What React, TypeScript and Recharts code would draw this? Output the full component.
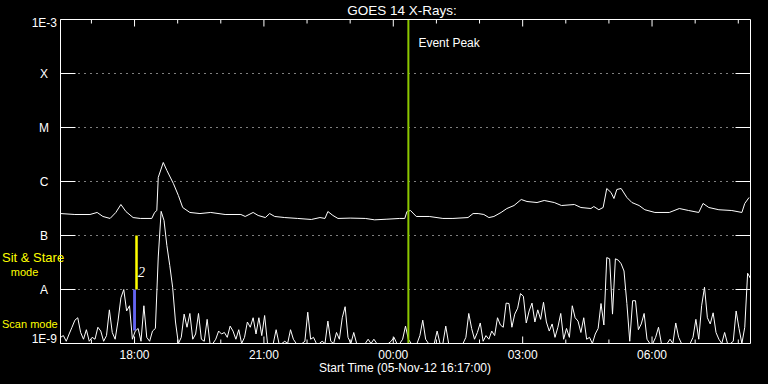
import React from 'react'
import {
  LineChart,
  Line,
  XAxis,
  YAxis,
  CartesianGrid,
  ReferenceLine,
  ReferenceArea,
} from 'recharts'

// times are minutes after the start (05-Nov-12 16:17), flux in nW/m^2 (1 = 1E-9 W/m^2)
const longTimes = [
  0, 20, 41, 51, 59, 69, 77, 84, 91, 101, 111, 127, 131, 134, 136, 143, 148, 157, 164, 170,
  180, 194, 209, 229, 251, 257, 268, 275, 285, 291, 298, 312, 330, 349, 361, 368, 372, 379, 386, 403,
  424, 437, 453, 472, 479, 482, 487, 495, 513, 532, 546, 567, 574, 581, 589, 596, 603, 613, 621, 631,
  641, 649, 663, 673, 687, 697, 715, 724, 738, 742, 749, 755, 760, 766, 770, 774, 780, 788, 795, 805,
  813, 827, 847, 861, 874, 888, 894, 902, 916, 934, 948, 952, 958,
]
const longFlux = [
  255, 245, 245, 267, 225, 207, 267, 375, 278, 215, 207, 207, 267, 290, 1190, 2250, 1600, 920, 551, 330,
  267, 255, 267, 245, 245, 225, 267, 235, 215, 255, 225, 215, 207, 198, 215, 207, 278, 235, 207, 210,
  207, 195, 200, 207, 207, 278, 290, 225, 225, 207, 207, 215, 255, 255, 245, 215, 225, 267, 316, 359,
  464, 426, 408, 445, 408, 359, 375, 330, 316, 344, 300, 330, 742, 625, 484, 711, 742, 506, 408, 359,
  300, 267, 267, 316, 290, 267, 392, 330, 300, 290, 267, 392, 506,
]

// one reading every 4 minutes
const shortStep = 4
const shortFlux = [
  1.3, 1.4, 1.1, 1.5, 2.0, 2.7, 3.0, 1.6, 1.2, 1.8,
  1.1, 1.3, 1.2, 2.0, 1.7, 1.1, 1.4, 4.2, 1.6, 1.2,
  2.6, 7.0, 10, 4.0, 5.0, 1.2, 1.7, 1.9, 1.1, 5.0,
  1.3, 1.1, 1.7, 1.9, 40, 280, 190, 65, 28, 11,
  2.5, 1.0, 1.3, 3.5, 2.0, 3.6, 1.2, 1.5, 3.6, 1.2,
  1.1, 2.8, 1.0, 1.0, 1.2, 1.7, 1.5, 1.6, 1.3, 2.1,
  1.7, 1.2, 1.8, 1.0, 1.3, 2.5, 2.0, 3.0, 1.5, 3.0,
  1.4, 3.3, 1.0, 1.0, 1.0, 1.8, 1.0, 1.0, 1.1, 1.0,
  1.8, 1.2, 1.0, 1.0, 1.0, 1.1, 3.8, 1.2, 1.3, 1.0,
  1.0, 1.1, 1.0, 2.6, 1.1, 1.0, 1.6, 1.2, 3.0, 4.8,
  1.3, 1.0, 1.6, 1.0, 1.0, 1.0, 1.0, 1.2, 1.0, 1.2,
  1.0, 1.0, 1.0, 1.0, 1.0, 1.1, 1.3, 1.0, 1.0, 1.2,
  2.1, 1.2, 1.0, 1.0, 1.0, 1.4, 2.7, 1.2, 1.0, 1.0,
  1.0, 1.7, 1.0, 1.0, 2.1, 1.0, 1.0, 1.0, 1.0, 1.0,
  1.0, 1.3, 3.6, 1.9, 1.2, 1.6, 2.4, 1.1, 1.4, 1.2,
  1.7, 1.4, 3.0, 2.2, 2.0, 5.6, 5.5, 2.0, 3.5, 4.5,
  8.4, 7.5, 2.4, 4.0, 5.6, 2.5, 4.2, 2.8, 5.8, 2.5,
  1.7, 2.3, 1.3, 2.0, 3.6, 1.2, 1.9, 1.3, 5.0, 3.0,
  2.6, 1.6, 3.0, 1.2, 1.3, 1.0, 1.5, 1.9, 5.5, 2.2,
  39, 37, 3.5, 37, 35, 30, 22, 5.5, 1.1, 6.2,
  6.2, 1.8, 2.3, 3.6, 1.2, 1.0, 1.0, 1.3, 2.0, 1.0,
  1.0, 1.0, 1.2, 1.0, 2.4, 1.3, 1.0, 1.0, 1.0, 1.0,
  1.3, 2.8, 1.2, 5.0, 11, 3.0, 2.3, 3.7, 1.6, 1.2,
  1.0, 1.6, 1.0, 1.0, 1.1, 4.0, 1.9, 1.0, 2.0, 20,
  16,
]

const fluxTicks = [1, 10, 100, 1000, 10000, 100000, 1000000]
const fluxLabels = ['1E-9', 'A', 'B', 'C', 'M', 'X', '1E-3']

const majorTimeTicks = [103, 283, 463, 643, 823]
const majorTimeLabels = ['18:00', '21:00', '00:00', '03:00', '06:00']
const minorTimeTicks = [43, 163, 223, 343, 403, 523, 583, 703, 763, 883, 943]
const allTimeTicks = [...minorTimeTicks, ...majorTimeTicks].sort((a, b) => a - b)

const eventPeakTime = 484
const scanSpan = [101, 105]
const scanFlux = [1.74, 10]
const sitStareSpan = [104, 107.5]
const sitStareFlux = [10, 100]

const longData = longTimes.map((t, i) => ({ t, long: longFlux[i] }))
const shortData = shortFlux.map((v, i) => ({ t: i * shortStep, short: v }))

const FONT = '"Liberation Sans", Arial, sans-serif'
const WHITE = '#ffffff'
const YELLOW = '#ffff00'

const BottomTick = (props: any) => {
  const { x, y, payload } = props
  const k = majorTimeTicks.indexOf(payload.value)
  return (
    <g>
      <line x1={x} x2={x} y1={y} y2={y - (k >= 0 ? 7 : 4)} stroke={WHITE} />
      {k >= 0 && (
        <text x={x} y={y + 15.5} textAnchor="middle" fill={WHITE} fontSize={12} fontFamily={FONT}>
          {majorTimeLabels[k]}
        </text>
      )}
    </g>
  )
}

const TopTick = (props: any) => {
  const { x, y, payload } = props
  const major = majorTimeTicks.includes(payload.value)
  return <line x1={x} x2={x} y1={y} y2={y + (major ? 7 : 4)} stroke={WHITE} />
}

const LeftTick = (props: any) => {
  const { x, y, payload } = props
  const k = fluxTicks.indexOf(payload.value)
  const last = fluxTicks.length - 1
  let label
  if (k === 0) {
    label = (
      <text x={57} y={y - 0.5} textAnchor="end" fill={WHITE} fontSize={12} fontFamily={FONT}>
        {fluxLabels[k]}
      </text>
    )
  } else if (k === last) {
    label = (
      <text x={57} y={y + 7.5} textAnchor="end" fill={WHITE} fontSize={12} fontFamily={FONT}>
        {fluxLabels[k]}
      </text>
    )
  } else {
    label = (
      <text x={44} y={y + 4} textAnchor="middle" fill={WHITE} fontSize={12} fontFamily={FONT}>
        {fluxLabels[k]}
      </text>
    )
  }
  return (
    <g>
      {k > 0 && k < last && <line x1={x} x2={x + 15} y1={y} y2={y} stroke={WHITE} />}
      {label}
    </g>
  )
}

const RightTick = (props: any) => {
  const { x, y, payload } = props
  const k = fluxTicks.indexOf(payload.value)
  if (k <= 0 || k >= fluxTicks.length - 1) return <g />
  return <line x1={x} x2={x - 15} y1={y} y2={y} stroke={WHITE} />
}

const EventLabel = (props: any) => {
  const vb = props.viewBox || {}
  return (
    <text x={(vb.x || 0) + 10} y={(vb.y || 0) + 27.5} fill={WHITE} fontSize={12} fontFamily={FONT}>
      Event Peak
    </text>
  )
}

export default function App() {
  return (
    <div
      style={{
        position: 'absolute',
        left: 0,
        top: 0,
        width: 768,
        height: 384,
        background: '#000',
        overflow: 'hidden',
      }}
    >
      <LineChart width={768} height={384} margin={{ top: 0, right: 0, bottom: 0, left: 0 }}>
        <CartesianGrid
          xAxisId="bottom"
          yAxisId="left"
          vertical={false}
          stroke={WHITE}
          strokeDasharray="1 5"
        />
        <XAxis
          xAxisId="bottom"
          type="number"
          dataKey="t"
          domain={[0, 960]}
          ticks={allTimeTicks}
          interval={0}
          height={40.5}
          tickSize={0}
          tickMargin={0}
          tickLine={false}
          axisLine={{ stroke: WHITE }}
          tick={<BottomTick />}
          allowDataOverflow
        />
        <XAxis
          xAxisId="top"
          orientation="top"
          type="number"
          dataKey="t"
          domain={[0, 960]}
          ticks={allTimeTicks}
          interval={0}
          height={19.5}
          tickSize={0}
          tickMargin={0}
          tickLine={false}
          axisLine={{ stroke: WHITE }}
          tick={<TopTick />}
          allowDataOverflow
        />
        <YAxis
          yAxisId="left"
          type="number"
          scale="log"
          domain={[1, 1000000]}
          ticks={fluxTicks}
          interval={0}
          width={60.5}
          tickSize={0}
          tickMargin={0}
          tickLine={false}
          axisLine={{ stroke: WHITE }}
          tick={<LeftTick />}
          allowDataOverflow
        />
        <YAxis
          yAxisId="right"
          orientation="right"
          type="number"
          scale="log"
          domain={[1, 1000000]}
          ticks={fluxTicks}
          interval={0}
          width={17.5}
          tickSize={0}
          tickMargin={0}
          tickLine={false}
          axisLine={{ stroke: WHITE }}
          tick={<RightTick />}
          allowDataOverflow
        />
        <ReferenceArea
          xAxisId="bottom"
          yAxisId="left"
          x1={scanSpan[0]}
          x2={scanSpan[1]}
          y1={scanFlux[0]}
          y2={scanFlux[1]}
          fill="#6464f0"
          fillOpacity={1}
          stroke="none"
          ifOverflow="visible"
        />
        <ReferenceArea
          xAxisId="bottom"
          yAxisId="left"
          x1={sitStareSpan[0]}
          x2={sitStareSpan[1]}
          y1={sitStareFlux[0]}
          y2={sitStareFlux[1]}
          fill={YELLOW}
          fillOpacity={1}
          stroke="none"
          ifOverflow="visible"
        />
        <Line
          data={shortData}
          dataKey="short"
          xAxisId="bottom"
          yAxisId="left"
          type="linear"
          stroke={WHITE}
          strokeWidth={1}
          dot={false}
          isAnimationActive={false}
        />
        <Line
          data={longData}
          dataKey="long"
          xAxisId="bottom"
          yAxisId="left"
          type="linear"
          stroke={WHITE}
          strokeWidth={1}
          dot={false}
          isAnimationActive={false}
        />
        <ReferenceLine
          xAxisId="bottom"
          yAxisId="left"
          x={eventPeakTime}
          stroke="#8cc800"
          strokeWidth={2}
          label={<EventLabel />}
        />
      </LineChart>
      <svg
        width={768}
        height={384}
        style={{ position: 'absolute', left: 0, top: 0, pointerEvents: 'none' }}
      >
        <text x={402} y={14.5} textAnchor="middle" fill={WHITE} fontSize={13.5} fontFamily={FONT}>
          GOES 14 X-Rays:
        </text>
        <text x={405} y={372} textAnchor="middle" fill={WHITE} fontSize={12} fontFamily={FONT}>
          Start Time (05-Nov-12 16:17:00)
        </text>
        <text x={2} y={262} fill={YELLOW} fontSize={13} fontFamily={FONT}>
          Sit &amp; Stare
        </text>
        <text x={24.5} y={276} textAnchor="middle" fill={YELLOW} fontSize={11} fontFamily={FONT}>
          mode
        </text>
        <text x={2} y={328} fill={YELLOW} fontSize={11} fontFamily={FONT}>
          Scan mode
        </text>
        <text
          x={138}
          y={277}
          fill={WHITE}
          fontSize={14}
          fontStyle="italic"
          fontFamily='"Liberation Serif", serif'
        >
          2
        </text>
      </svg>
    </div>
  )
}
